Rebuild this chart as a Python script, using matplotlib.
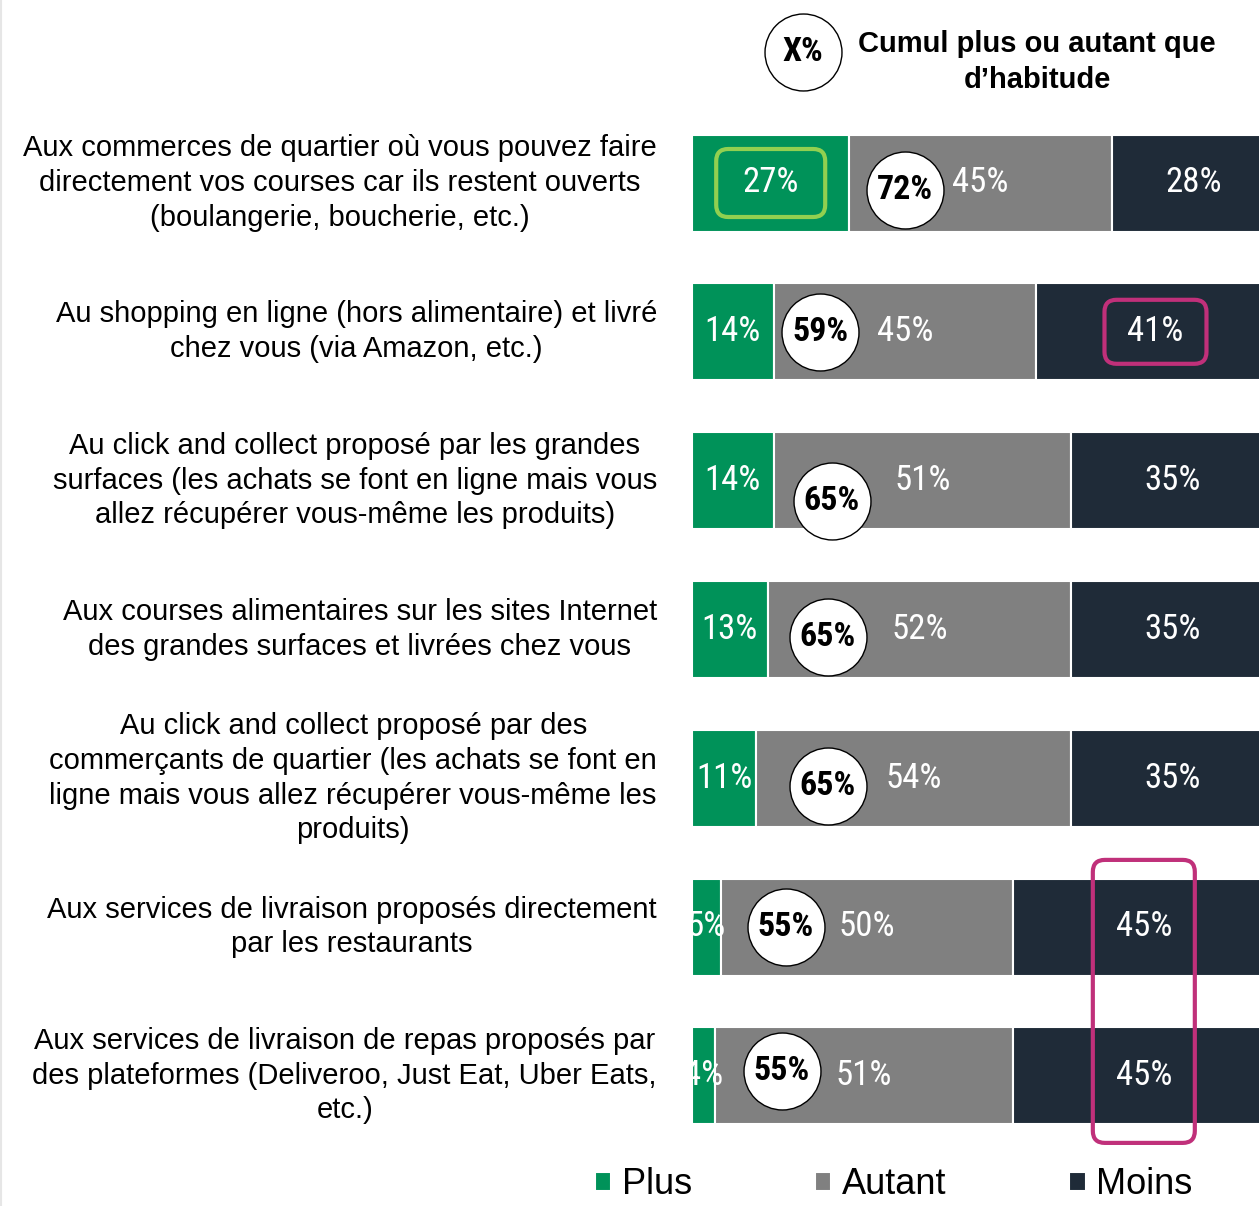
import matplotlib
matplotlib.use("Agg")
import matplotlib.pyplot as plt
from matplotlib import font_manager
from matplotlib.patches import FancyBboxPatch

categories = [
    "Aux commerces de quartier où vous pouvez faire\ndirectement vos courses car ils restent ouverts\n(boulangerie, boucherie, etc.)",
    "Au shopping en ligne (hors alimentaire) et livré\nchez vous (via Amazon, etc.)",
    "Au click and collect proposé par les grandes\nsurfaces (les achats se font en ligne mais vous\nallez récupérer vous-même les produits)",
    "Aux courses alimentaires sur les sites Internet\ndes grandes surfaces et livrées chez vous",
    "Au click and collect proposé par des\ncommerçants de quartier (les achats se font en\nligne mais vous allez récupérer vous-même les\nproduits)",
    "Aux services de livraison proposés directement\npar les restaurants",
    "Aux services de livraison de repas proposés par\ndes plateformes (Deliveroo, Just Eat, Uber Eats,\netc.)",
]
plus = [27, 14, 14, 13, 11, 5, 4]
autant = [45, 45, 51, 52, 54, 50, 51]
moins = [28, 41, 35, 35, 35, 45, 45]
series_names = ["Plus", "Autant", "Moins"]
colors = ["#009259", "#808080", "#1f2b38"]

# where the hand-placed circles sit (data x, row offset)
circle_x = [36.5, 22.0, 24.0, 23.3, 23.3, 16.1, 15.4]
circle_dy = [0.05, 0.0, 0.14, 0.05, 0.05, 0.0, -0.03]

names = {f.name for f in font_manager.fontManager.ttflist}
narrow = "Liberation Sans"
for cand in ["Liberation Sans Narrow", "Arial Narrow", "Roboto Condensed", "Archivo Narrow"]:
    if cand in names:
        narrow = cand
        break
plt.rcParams["font.family"] = ["Liberation Sans", "DejaVu Sans"]

W, H, DPI = 1259, 1206, 100
fig = plt.figure(figsize=(W / DPI, H / DPI), dpi=DPI)
px_per_unit = 5.83
row_px = 148.8
ax = fig.add_axes([692 / W, 0, 1 - 692 / W, 1])
ax.set_xlim(0, (W - 692) / px_per_unit)
ax.set_ylim((H - 183) / row_px, -183 / row_px)
ax.axis("off")

rows = list(range(len(categories)))
h = 97 / row_px
left = [0] * len(rows)
handles = []
for vals, col, name in zip([plus, autant, moins], colors, series_names):
    b = ax.barh(rows, vals, left=left, height=h, color=col, edgecolor="white",
                linewidth=1.5, label=name)
    handles.append(b)
    for i, v in enumerate(vals):
        ax.text(left[i] + v / 2, rows[i], f"{v}%", color="white", ha="center",
                va="center", fontsize=25, family=narrow)
    left = [l + v for l, v in zip(left, vals)]

# cumulative circles
cum = [p + a for p, a in zip(plus, autant)]
cy = [r + d for r, d in zip(rows, circle_dy)]
ax.scatter(circle_x, cy, s=3071, facecolor="white", edgecolor="black", linewidth=1, zorder=5)
for x, y, c in zip(circle_x, cy, cum):
    ax.text(x, y, f"{c}%", ha="center", va="center", fontsize=24.5,
            fontweight="bold", family=narrow, zorder=6)

# row labels
for i, lab in enumerate(categories):
    ax.annotate(lab, xy=(0, i), xytext=(-25.2, 0), textcoords="offset points",
                ha="right", va="center", multialignment="center", fontsize=21,
                linespacing=1.3, annotation_clip=False)

# key at the top
ax.scatter([(803 - 692) / px_per_unit], [(52 - 183) / row_px], s=3071,
           facecolor="white", edgecolor="black", linewidth=1, clip_on=False)
ax.text((803 - 692) / px_per_unit, (52 - 183) / row_px, "X%", ha="center", va="center",
        fontsize=24.5, fontweight="bold", family=narrow)
ax.text((1037 - 692) / px_per_unit, (62 - 183) / row_px,
        "Cumul plus ou autant que\nd\u2019habitude", ha="center", va="center",
        fontsize=21, fontweight="bold", linespacing=1.38)

# highlight boxes, sized in pixels around data-anchored centres
fig.canvas.draw()
def hbox(xc, yc, wpx, hpx, col):
    X, Y = ax.transData.transform((xc, yc))
    p = FancyBboxPatch((X - wpx / 2, Y - hpx / 2), wpx, hpx,
                       boxstyle="round,pad=0,rounding_size=12", transform=None,
                       facecolor="none", edgecolor=col, linewidth=3, zorder=7)
    fig.patches.append(p)

hbox(plus[0] / 2, 0, 109, 68, "#92d050")
hbox(cum[1] + moins[1] / 2, 1, 102, 64, "#c0307a")
hbox(cum[5] + moins[5] / 2, 5.5, 102, 283, "#c0307a")

fig.legend(handles, series_names, loc="center left",
           bbox_to_anchor=(595 / W, 1 - 1185 / H), ncol=3, frameon=False,
           fontsize=26, handlelength=0.45, handleheight=0.45, handletextpad=0.3,
           columnspacing=3.4, borderpad=0, borderaxespad=0)

fig.add_artist(plt.Line2D([1 / W, 1 / W], [0, 1], color="#e6e6e6", linewidth=1.5))

fig.savefig("out.png", dpi=DPI, facecolor="white")
